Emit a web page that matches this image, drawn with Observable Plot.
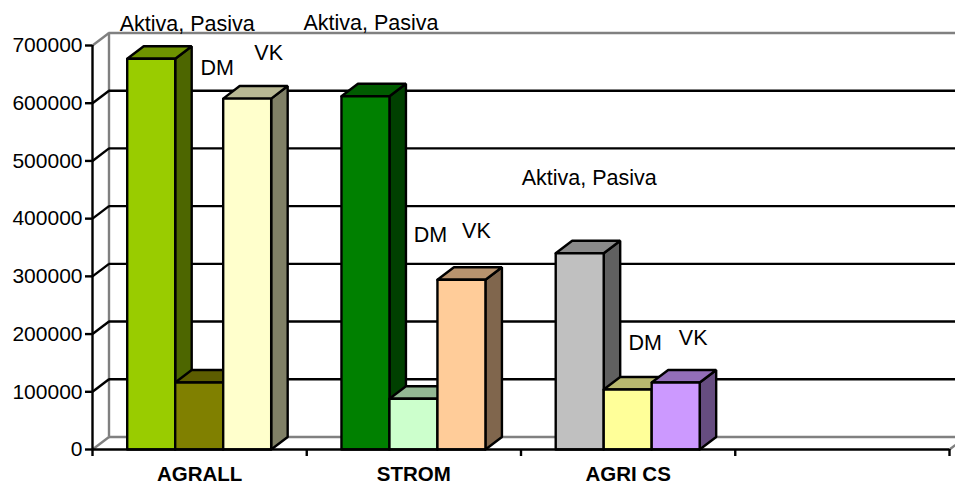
<!DOCTYPE html>
<html>
<head>
<meta charset="utf-8">
<script src="https://cdn.jsdelivr.net/npm/d3@7"></script>
<script src="https://cdn.jsdelivr.net/npm/@observablehq/plot@0.6"></script>
<style>
html,body{margin:0;padding:0;background:#fff}
svg{display:block}
</style>
</head>
<body>
<div id="chart"></div>
<script>
const categories = ["AGRALL", "STROM", "AGRI CS"];
const seriesNames = ["Aktiva, Pasiva", "DM", "VK"];
const aktivaPasiva = [677000, 612000, 340000];
const dm = [116000, 88000, 104000];
const vk = [608000, 294000, 116000];
const yTicks = [0, 100000, 200000, 300000, 400000, 500000, 600000, 700000];
const slotTicks = [0, 1, 2, 3, 4];
const frontColors = [
  ["#99CC00", "#808000", "#FFFFCC"],
  ["#008000", "#CCFFCC", "#FFCC99"],
  ["#C0C0C0", "#FFFF99", "#CC99FF"]
];

const seriesValues = [aktivaPasiva, dm, vk];
// 3-D projection of the chart, in data units
const depthX = 0.077, depthY = 21700, barW = 0.224, gap = 0.162, wallEnd = 4.028;
const FONT = "'Liberation Sans', Arial, sans-serif", FS = 21.5, LW = 2.4;

const bars = [];
categories.forEach((c, i) => seriesNames.forEach((s, j) => {
  const x0 = i + gap + j * barW;
  bars.push({id: `${i}-${j}`, cat: c, label: s, x0, x1: x0 + barW, v: seriesValues[j][i], color: frontColors[i][j]});
}));
const shade = (col, k) => { const c = d3.rgb(col); return d3.rgb(c.r * k, c.g * k, c.b * k).formatHex(); };

const faces = [];
bars.forEach(b => {
  const dx = depthX, dy = depthY;
  const side = [[b.x1, 0], [b.x1 + dx, dy], [b.x1 + dx, b.v + dy], [b.x1, b.v], [b.x1, 0]];
  const top = [[b.x0, b.v], [b.x0 + dx, b.v + dy], [b.x1 + dx, b.v + dy], [b.x1, b.v], [b.x0, b.v]];
  const front = [[b.x0, 0], [b.x0, b.v], [b.x1, b.v], [b.x1, 0], [b.x0, 0]];
  [["s", side, shade(b.color, 0.5)], ["t", top, shade(b.color, 0.72)], ["f", front, b.color]].forEach(([n, pts, col]) =>
    pts.forEach(p => faces.push({face: b.id + n, x: p[0], y: p[1], col})));
});

// label offsets from each bar's top-centre, in pixels
const labelShift = [
  [[36, -35], [18, -314], [21.5, -45]],
  [[5.5, -73], [17, -164], [15, -49]],
  [[9.5, -75], [17.5, -46], [17.5, -44]]
];
const labelMarks = bars.map((b, k) => {
  const [dx, dy] = labelShift[Math.floor(k / 3)][k % 3];
  return Plot.text([b], {x: d => (d.x0 + d.x1) / 2, y: "v", text: "label", dx, dy,
    fontSize: FS, fontFamily: FONT, fill: "#000"});
});

const innerTicks = yTicks.filter(v => v > 0 && v < 700000);

const chart = Plot.plot({
  width: 955, height: 484,
  marginLeft: 92, marginRight: 6, marginTop: 45, marginBottom: 35,
  style: {fontFamily: FONT, background: "#fff", color: "#000"},
  x: {domain: [0, 4], axis: null},
  y: {domain: [0, 700000], axis: null},
  color: {type: "identity"},
  marks: [
    // back wall frame and floor (grey)
    Plot.ruleX([depthX], {y1: depthY, y2: 700000 + depthY, stroke: "#808080", strokeWidth: LW}),
    Plot.ruleY([700000 + depthY, depthY], {x1: depthX, x2: wallEnd, stroke: "#808080", strokeWidth: LW}),
    // gridlines on the back wall
    Plot.ruleY(innerTicks.map(v => v + depthY), {x1: depthX, x2: wallEnd, stroke: "#000", strokeWidth: LW}),
    // side wall diagonals
    Plot.link(innerTicks, {x1: 0, x2: depthX, y1: d => d, y2: d => d + depthY, stroke: "#000", strokeWidth: LW}),
    Plot.link([0, 700000], {x1: 0, x2: depthX, y1: d => d, y2: d => d + depthY, stroke: "#808080", strokeWidth: LW}),
    Plot.link([0], {x1: 4, x2: wallEnd, y1: d => d, y2: d => d + depthY * 0.36, stroke: "#808080", strokeWidth: LW}),
    // bars
    Plot.line(faces, {x: "x", y: "y", z: "face", fill: "col", stroke: "#000", strokeWidth: LW, strokeLinejoin: "miter", curve: "linear"}),
    // axes
    Plot.ruleX([0], {y1: 0, y2: 700000, stroke: "#000", strokeWidth: LW}),
    Plot.ruleY([0], {x1: 0, x2: 4, stroke: "#000", strokeWidth: LW}),
    Plot.axisY({ticks: yTicks, tickFormat: d => String(d), tickSize: 7, tickPadding: 3, strokeWidth: LW, fontSize: 21, fontFamily: FONT, label: null}),
    Plot.axisX({ticks: slotTicks, tickFormat: () => "", tickSize: 7, strokeWidth: LW, label: null}),
    Plot.axisX({ticks: categories.map((c, i) => i + 0.5), tickFormat: d => categories[Math.floor(d)], tickSize: 0, tickPadding: 16.5, fontSize: 20.5, fontWeight: "bold", fontFamily: FONT, label: null}),
    ...labelMarks
  ]
});
document.getElementById("chart").appendChild(chart);
</script>
</body>
</html>
